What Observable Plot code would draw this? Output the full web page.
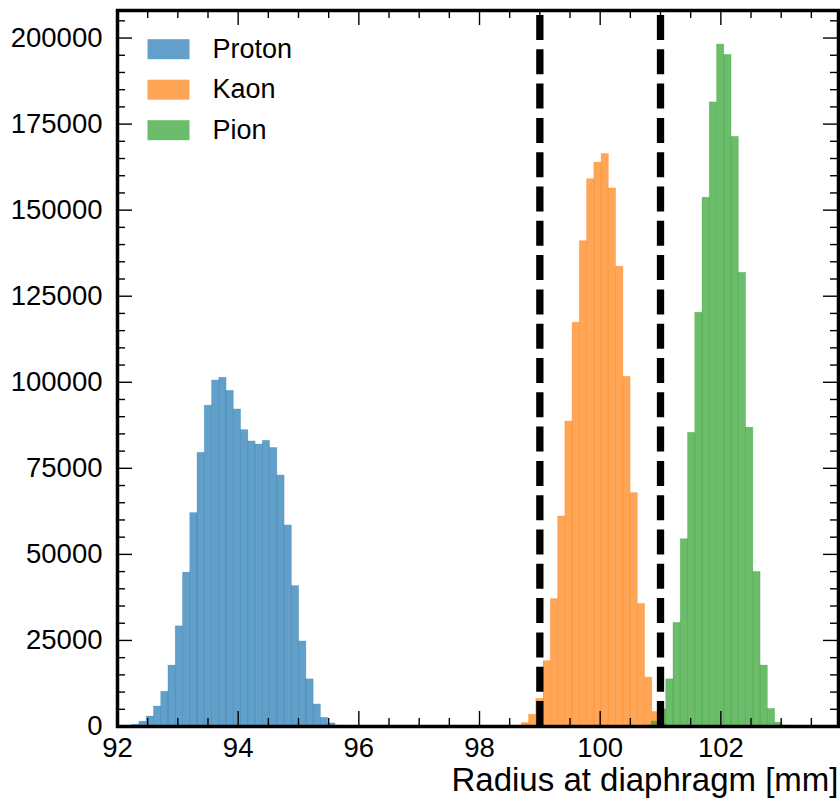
<!DOCTYPE html>
<html>
<head>
<meta charset="utf-8">
<script src="https://cdn.jsdelivr.net/npm/d3@7"></script>
<script src="https://cdn.jsdelivr.net/npm/@observablehq/plot@0.6"></script>
<style>
  html, body { margin: 0; padding: 0; background: #ffffff; }
  #chart svg { display: block; }
</style>
</head>
<body>
<div id="chart"></div>
<script>
// ---- data ----
const species = ["Proton", "Kaon", "Pion"];
const speciesColors = ["#1f77b4", "#ff7f0e", "#2ca02c"];
const binWidth = 0.1203; // mm

const protonStart = 92.2435;
const protonCounts = [500, 1400, 2900, 5800, 10100, 17700, 29100, 44700, 62000, 79500,
  93200, 100500, 101300, 97500, 92100, 86100, 82800, 81900, 83000, 80900,
  72900, 58400, 40800, 24700, 13700, 6400, 2500, 900, 200];

const kaonStart = 98.700;
const kaonCounts = [1000, 3400, 8000, 19000, 37000, 61000, 88600, 117300, 141000, 159000,
  163800, 166300, 156300, 133600, 101600, 67800, 35600, 14200, 4200, 800];

const pionStart = 100.734;
const pionCounts = [300, 1400, 5000, 13700, 30100, 54400, 85300, 120200, 153600, 181300,
  198100, 195100, 171300, 131800, 86800, 44900, 17700, 5100, 1100, 200];

const cuts = [99, 101];
const xTickLabels = [92, 94, 96, 98, 100, 102];
const xMinorTicks = [92.5, 93, 93.5, 94.5, 95, 95.5, 96.5, 97, 97.5, 98.5, 99, 99.5, 100.5, 101, 101.5, 102.5, 103, 103.5];
const yTickLabels = [0, 25000, 50000, 75000, 100000, 125000, 150000, 175000, 200000];
const xLabel = "Radius at diaphragm [mm]";
const xDomain = [92, 103.95];
const yDomain = [0, 208000];

// ---- layout ----
const W = 840, H = 803;
const mL = 117, mR = 2, mT = 10, mB = 77;
const plotW = W - mL - mR, plotH = H - mT - mB;

function toBins(name, start, counts) {
  return counts.map((c, i) => ({species: name, x1: start + i * binWidth, x2: start + (i + 1) * binWidth, count: c}));
}
const bars = [
  ...toBins("Proton", protonStart, protonCounts),
  ...toBins("Kaon", kaonStart, kaonCounts),
  ...toBins("Pion", pionStart, pionCounts)
];

const yMinorTicks = d3.range(0, 208001, 5000).filter(v => v % 25000 !== 0);

const majorLen = 15, minorLen = 8, tickW = 1.4;

const legendMarks = [];
species.forEach((s, i) => {
  const top = 28.7 + 40.5 * i;
  legendMarks.push(Plot.frame({
    fill: speciesColors[i], fillOpacity: 0.7, stroke: "none",
    insetLeft: 30, insetRight: plotW - 72, insetTop: top, insetBottom: plotH - top - 20
  }));
  legendMarks.push(Plot.text([s], {
    text: d => d, frameAnchor: "top-left", dx: 95, dy: top + 10,
    textAnchor: "start", lineAnchor: "middle", fontSize: 27, fill: "black"
  }));
});

const chart = Plot.plot({
  width: W, height: H,
  marginLeft: mL, marginRight: mR, marginTop: mT, marginBottom: mB,
  style: {fontFamily: "'Liberation Sans', Arial, Helvetica, sans-serif", fontSize: "27px", background: "white", color: "black"},
  x: {domain: xDomain},
  y: {domain: yDomain},
  color: {domain: species, range: speciesColors},
  marks: [
    Plot.rect(bars, {x1: "x1", x2: "x2", y1: 0, y2: "count", fill: "species", fillOpacity: 0.7,
      stroke: "species", strokeOpacity: 0.3, strokeWidth: 0.8}),
    Plot.ruleX(cuts, {x: d => d, y1: yDomain[0], y2: yDomain[1], stroke: "black", strokeWidth: 7.3, strokeDasharray: "25,9.3"}),
    // bottom ticks (inward)
    Plot.tickX(xTickLabels, {x: d => d, insetTop: plotH - majorLen, stroke: "black", strokeWidth: tickW}),
    Plot.tickX(xMinorTicks, {x: d => d, insetTop: plotH - minorLen, stroke: "black", strokeWidth: tickW}),
    // top ticks
    Plot.tickX(xTickLabels, {x: d => d, insetBottom: plotH - majorLen, stroke: "black", strokeWidth: tickW}),
    Plot.tickX(xMinorTicks, {x: d => d, insetBottom: plotH - minorLen, stroke: "black", strokeWidth: tickW}),
    // left ticks
    Plot.tickY(yTickLabels, {y: d => d, insetRight: plotW - majorLen, stroke: "black", strokeWidth: tickW}),
    Plot.tickY(yMinorTicks, {y: d => d, insetRight: plotW - minorLen, stroke: "black", strokeWidth: tickW}),
    // right ticks
    Plot.tickY(yTickLabels, {y: d => d, insetLeft: plotW - majorLen, stroke: "black", strokeWidth: tickW}),
    Plot.tickY(yMinorTicks, {y: d => d, insetLeft: plotW - minorLen, stroke: "black", strokeWidth: tickW}),
    Plot.axisX({ticks: xTickLabels, tickSize: 0, tickPadding: 11, tickFormat: d3.format("d"), label: null, fontSize: 27.5}),
    Plot.axisY({ticks: yTickLabels, tickSize: 0, tickPadding: 15, tickFormat: d3.format("d"), label: null, fontSize: 27.5}),
    Plot.text([xLabel], {text: d => d, frameAnchor: "bottom-right", dy: 54, textAnchor: "end", lineAnchor: "middle", fontSize: 33, fill: "black"}),
    ...legendMarks,
    Plot.frame({stroke: "black", strokeWidth: 3.5})
  ]
});
document.getElementById("chart").appendChild(chart);
</script>
</body>
</html>
